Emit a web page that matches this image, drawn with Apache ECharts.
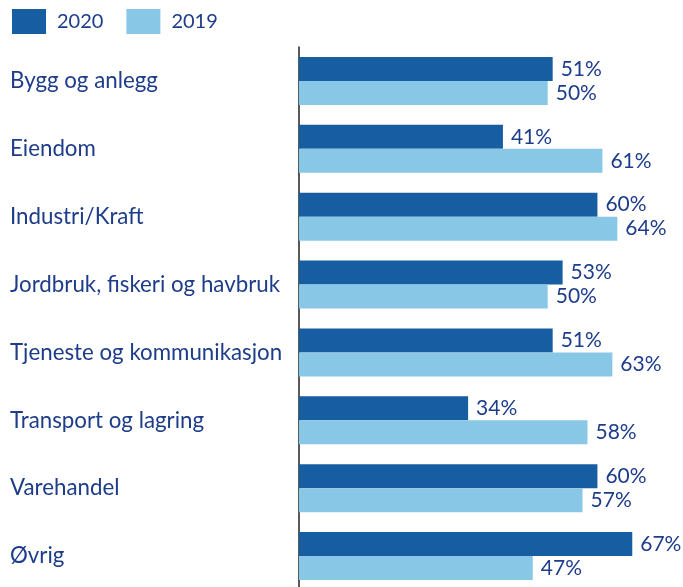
<!DOCTYPE html>
<html><head><meta charset="utf-8">
<script src="https://cdn.jsdelivr.net/npm/echarts@6/dist/echarts.min.js"></script>
<style>html,body{margin:0;padding:0;background:#fff;overflow:hidden}#c{width:683px;height:600px}</style>
</head><body><div id="c"></div>
<script>
const categories = ["Bygg og anlegg","Eiendom","Industri/Kraft","Jordbruk, fiskeri og havbruk","Tjeneste og kommunikasjon","Transport og lagring","Varehandel","Øvrig"];
const values2020 = [51,41,60,53,51,34,60,67];
const values2019 = [50,61,64,50,63,58,57,47];
const seriesNames = ["2020","2019"];

const textColor = "#1d3c8a";
const font = "Lato";
const chart = echarts.init(document.getElementById('c'));
const lbl = {show:true, position:'right', distance:8, formatter:'{c}%', color:textColor, fontFamily:font, fontSize:21};
chart.setOption({
  animation:false,
  legend:{left:7, top:4, itemWidth:34, itemHeight:25, itemGap:23, icon:'rect',
    textStyle:{color:textColor, fontFamily:font, fontSize:20, padding:[0,0,0,6]},
    data:seriesNames},
  grid:{left:299, top:47, width:383, height:543, containLabel:false},
  xAxis:{type:'value', min:0, max:77, show:false},
  yAxis:{type:'category', data:categories, inverse:true,
    axisLine:{show:true, lineStyle:{color:'#222', width:1.5}},
    axisTick:{show:false},
    axisLabel:{align:'left', margin:289, color:textColor, fontFamily:font, fontSize:22.3}},
  series:[
    {name:seriesNames[0], type:'bar', data:values2020, barWidth:24, barGap:'0%', itemStyle:{color:'#165da1'}, label:lbl},
    {name:seriesNames[1], type:'bar', data:values2019, barWidth:24, barGap:'0%', itemStyle:{color:'#88c8e6'}, label:lbl}
  ]
});
</script></body></html>
